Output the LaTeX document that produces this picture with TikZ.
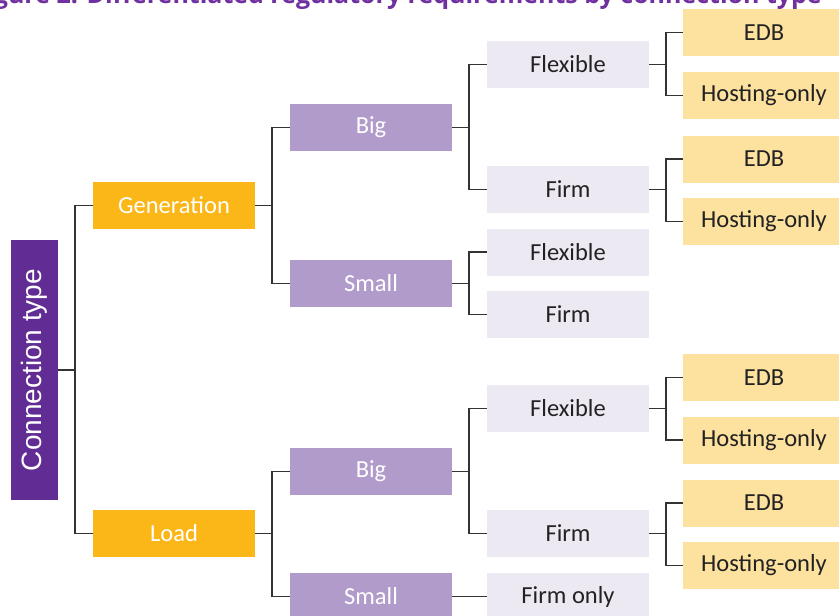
\documentclass[tikz,border=0pt]{standalone}
\usepackage{fontspec}
\setmainfont{Carlito}
\newfontfamily\arialfont{Liberation Sans}
\newfontfamily\titlefont{Open Sans}
\definecolor{titlepurple}{HTML}{7030A0}
\definecolor{darkpurple}{HTML}{612C93}
\definecolor{goldbox}{HTML}{FBB617}
\definecolor{midpurple}{HTML}{B09BCB}
\definecolor{lavender}{HTML}{EDE9F3}
\definecolor{palegold}{HTML}{FDE19F}
\definecolor{linegray}{HTML}{333333}
\definecolor{darktext}{HTML}{222222}
\begin{document}
\begin{tikzpicture}[x=1pt,y=-1pt,
  box/.style={minimum width=162pt,minimum height=47pt,inner sep=0pt,outer sep=0pt,font=\fontsize{24.5}{28}\selectfont},
  lvl1/.style={box,fill=goldbox,text=white},
  lvl2/.style={box,fill=midpurple,text=white},
  lvl3/.style={box,fill=lavender,text=darktext},
  lvl4/.style={box,fill=palegold,text=darktext},
  conn/.style={draw=linegray,line width=1.7pt}]
\useasboundingbox (0,0) rectangle (839,616);
\clip (0,0) rectangle (839,616);
\fill[white] (0,0) rectangle (839,616);
% title (cut off at top)
\node[anchor=base east,inner sep=0pt,font=\titlefont\bfseries\fontsize{25}{28}\selectfont,text=titlepurple] (title) at (822,3) {Figure 2: Differentiated regulatory requirements by connection type};
% root
\node[minimum width=47pt,minimum height=260pt,inner sep=0pt,fill=darkpurple,text=white] (ct) at (34.5,370) {\rotatebox{90}{\arialfont\fontsize{28}{30}\selectfont Connection type}};
% level 1
\node[lvl1] (gen) at (174,205.5) {Generation};
\node[lvl1] (load) at (174,533.5) {Load};
% level 2
\node[lvl2] (big1) at (371,127.5) {Big};
\node[lvl2] (small1) at (371,283.5) {Small};
\node[lvl2] (big2) at (371,471.5) {Big};
\node[lvl2] (small2) at (371,596.5) {Small};
% level 3
\node[lvl3] (flex1) at (568,64.5) {Flexible};
\node[lvl3] (firm1) at (568,189.5) {Firm};
\node[lvl3] (flex2) at (568,252) {Flexible};
\node[lvl3] (firm2) at (568,314.5) {Firm};
\node[lvl3] (flex3) at (568,408.5) {Flexible};
\node[lvl3] (firm3) at (568,533.5) {Firm};
\node[lvl3] (firmonly) at (568,596.5) {Firm only};
% level 4
\node[lvl4] (edb1) at (764,32.5) {EDB};
\node[lvl4] (host1) at (764,95.5) {Hosting-only};
\node[lvl4] (edb2) at (764,159) {EDB};
\node[lvl4] (host2) at (764,221.5) {Hosting-only};
\node[lvl4] (edb3) at (764,377.5) {EDB};
\node[lvl4] (host3) at (764,440) {Hosting-only};
\node[lvl4] (edb4) at (764,503) {EDB};
\node[lvl4] (host4) at (764,565.5) {Hosting-only};
% connectors
\foreach \p/\c in {ct/gen,ct/load,gen/big1,gen/small1,load/big2,load/small2,
  big1/flex1,big1/firm1,small1/flex2,small1/firm2,big2/flex3,big2/firm3,
  flex1/edb1,flex1/host1,firm1/edb2,firm1/host2,flex3/edb3,flex3/host3,firm3/edb4,firm3/host4}{
  \draw[conn] (\p.east) -- ++(17,0) |- (\c.west);
}
\draw[conn] (small2.east) -- (firmonly.west);
\end{tikzpicture}
\end{document}
